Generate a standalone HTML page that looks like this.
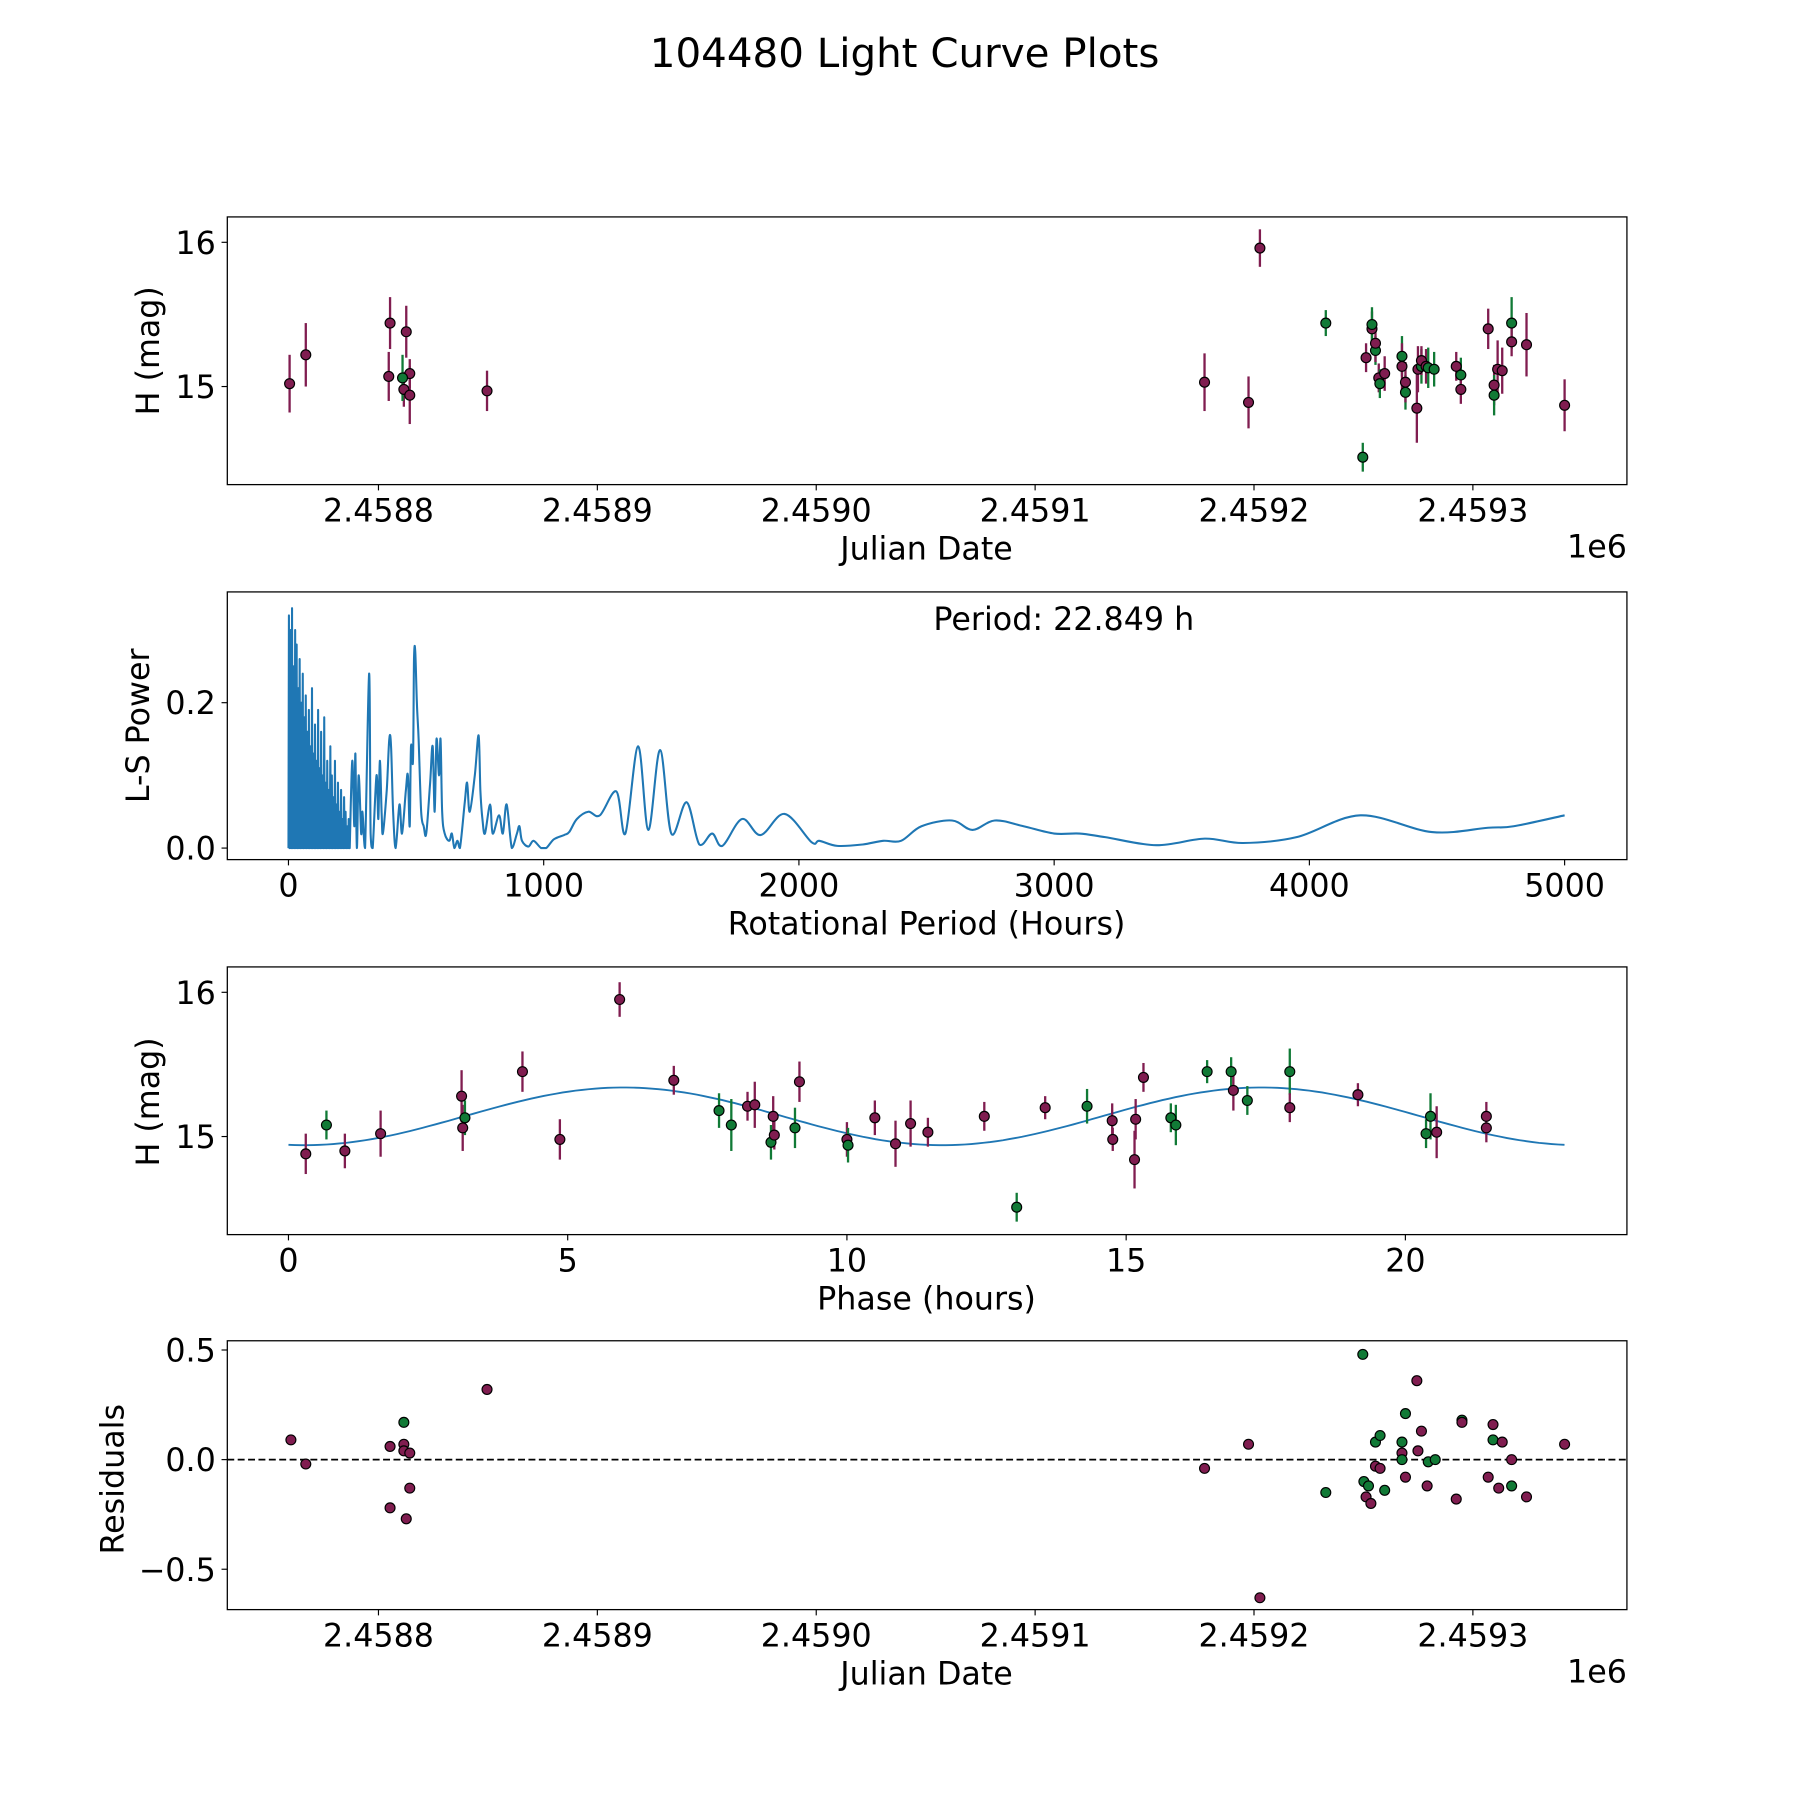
<!DOCTYPE html>
<html><head><meta charset="utf-8"><style>
html,body{margin:0;padding:0;background:#fff}
svg{display:block;font-family:"DejaVu Sans","Liberation Sans",sans-serif}
</style></head><body>
<svg id="fig" width="1800" height="1800" viewBox="0 0 1560 1560" xmlns="http://www.w3.org/2000/svg">
<rect width="1560" height="1560" fill="#fff"/>
<text x="784" y="58" font-size="35" text-anchor="middle">104480 Light Curve Plots</text>
<g id="g1"></g>
<g id="g2"></g>
<g id="g3"></g>
<g id="g4"></g>
</svg>
<script>
// ---- Panel 1: light curve data (JD, mag, err, band 0=purple 1=green)
const lcJD = [2458759.4,2458766.8,2458805.3,2458804.7,2458811.6,2458812.7,2458814.3,2458814.3,2458811.0,2458849.6,2459177.4,2459197.5,2459202.7,2459232.8,2459249.7,2459251.2,2459253.9,2459253.9,2459255.5,2459255.5,2459257.0,2459257.5,2459259.7,2459267.6,2459267.6,2459269.2,2459269.2,2459274.4,2459274.9,2459276.5,2459276.5,2459278.6,2459279.6,2459282.3,2459292.4,2459294.5,2459294.5,2459307.0,2459309.7,2459309.7,2459311.3,2459313.4,2459317.7,2459317.7,2459324.5,2459341.9];
const lcMag = [15.02,15.22,15.44,15.07,14.98,15.38,15.09,14.94,15.06,14.97,15.03,14.89,15.96,15.44,14.51,15.20,15.40,15.43,15.25,15.30,15.06,15.02,15.09,15.21,15.14,14.96,15.03,14.85,15.12,15.14,15.18,15.14,15.13,15.12,15.14,15.08,14.98,15.40,15.01,14.94,15.12,15.11,15.44,15.31,15.29,14.87];
const lcErr = [0.2,0.22,0.18,0.17,0.12,0.18,0.1,0.2,0.16,0.14,0.2,0.18,0.13,0.09,0.1,0.1,0.12,0.12,0.1,0.13,0.1,0.1,0.12,0.14,0.16,0.12,0.14,0.24,0.16,0.12,0.1,0.12,0.14,0.12,0.1,0.12,0.1,0.14,0.14,0.14,0.2,0.16,0.18,0.1,0.22,0.18];
const lcBand = [0,0,0,0,0,0,0,0,1,0,0,0,0,1,1,0,0,1,1,0,0,1,0,1,0,1,0,0,0,1,0,0,1,1,0,1,0,0,0,1,0,0,1,0,0,0];
// ---- Panel 2: periodogram
const lsDenseHeights = [.32,.30,.33,.25,.30,.28,.22,.26,.20,.24,.18,.21,.16,.19,.14,.22,.13,.17,.12,.19,.11,.16,.10,.18,.09,.12,.08,.14,.10,.07,.12,.06,.09,.05,.08,.04,.07,.05,.03,.04];
const lsPeriods = [240,250,258,262,268,275,285,290,300,316,322,330,345,352,358,365,370,385,395,402,410,420,435,445,460,468,475,480,488,492,497,503,510,520,530,540,555,565,573,580,590,596,602,612,630,640,650,662,672,690,700,710,730,745,752,760,770,790,800,825,840,855,875,895,905,915,940,960,990,1010,1040,1080,1100,1130,1175,1220,1285,1320,1370,1410,1456,1500,1560,1610,1660,1700,1777,1850,1944,2050,2080,2150,2250,2330,2400,2480,2600,2680,2767,2880,3000,3100,3200,3400,3590,3740,3950,4200,4480,4700,4800,5000];
const lsPower = [0,.12,.03,.13,0,.1,.02,.05,0,.24,.02,0,.1,.04,.12,.05,.02,.08,.15,.14,.05,0,.06,.02,.08,.1,.03,.14,.12,.26,.27,.2,.15,.05,.03,.02,.09,.14,.05,.15,.1,.15,.05,.02,.01,.02,0,.01,0,.06,.09,.05,.1,.155,.08,.04,.02,.06,.02,.045,.02,.06,0,.02,.03,.01,.002,.01,0,0,.012,.018,.022,.04,.05,.045,.078,.02,.14,.025,.135,.02,.063,.005,.02,.003,.04,.018,.047,.008,.01,.003,.005,.01,.01,.03,.038,.025,.038,.03,.02,.02,.015,.004,.013,.007,.015,.045,.022,.028,.03,.045];
// ---- Panel 3: phased data
const phPhase = [0.31,0.68,1.01,1.65,3.1,3.12,3.16,4.19,4.86,5.93,6.9,7.71,7.93,8.22,8.35,8.68,8.64,8.7,9.07,9.15,10.0,10.02,10.5,10.87,11.14,11.45,12.46,13.04,13.55,14.3,14.75,14.76,15.17,15.15,15.31,15.8,15.89,16.45,16.88,16.92,17.17,17.93,17.93,19.15,20.37,20.45,20.56,21.45,21.45];
const phMag = [14.88,15.08,14.9,15.02,15.28,15.06,15.13,15.45,14.98,15.95,15.39,15.18,15.08,15.21,15.22,15.14,14.96,15.01,15.06,15.38,14.98,14.94,15.13,14.95,15.09,15.03,15.14,14.51,15.2,15.21,15.11,14.98,15.12,14.84,15.41,15.13,15.08,15.45,15.45,15.32,15.25,15.45,15.2,15.29,15.02,15.14,15.03,15.14,15.06];
const phErr = [0.14,0.1,0.12,0.16,0.18,0.16,0.12,0.14,0.14,0.12,0.1,0.12,0.18,0.1,0.16,0.14,0.12,0.1,0.14,0.14,0.12,0.12,0.12,0.16,0.16,0.1,0.1,0.1,0.08,0.12,0.12,0.08,0.14,0.2,0.1,0.1,0.14,0.08,0.1,0.14,0.1,0.16,0.1,0.08,0.1,0.16,0.18,0.1,0.1];
const phBand = [0,1,0,0,0,0,1,0,0,0,0,1,1,0,0,0,1,0,1,0,0,1,0,0,0,0,0,1,0,1,0,0,0,0,0,1,1,1,1,0,1,1,0,0,1,1,0,0,0];
const fitMean = [15.14], fitAmp = [0.2], fitPeak = [6.0], fitHalfPeriod = [11.42], fitMax = [22.849];
// ---- Panel 4: residuals
const resJD = [2458760.0,2458766.8,2458805.3,2458805.3,2458811.6,2458811.6,2458811.6,2458812.7,2458814.3,2458814.3,2458849.6,2459177.4,2459197.5,2459202.7,2459232.8,2459249.7,2459251.2,2459253.4,2459250.2,2459252.3,2459255.5,2459257.6,2459255.5,2459257.6,2459259.7,2459267.6,2459267.6,2459267.6,2459269.2,2459269.2,2459274.4,2459274.9,2459276.5,2459279.1,2459279.6,2459282.8,2459292.4,2459295.0,2459295.0,2459307.0,2459309.2,2459309.2,2459311.8,2459313.4,2459317.7,2459317.7,2459324.5,2459341.9];
const resVal = [0.09,-0.02,0.06,-0.22,0.07,0.04,0.17,-0.27,0.03,-0.13,0.32,-0.04,0.07,-0.63,-0.15,0.48,-0.17,-0.2,-0.1,-0.12,0.08,0.11,-0.03,-0.04,-0.14,0.08,0.03,0.0,0.21,-0.08,0.36,0.04,0.13,-0.12,-0.01,0.0,-0.18,0.18,0.17,-0.08,0.16,0.09,-0.13,0.08,-0.12,0.0,-0.17,0.07];
const resBand = [0,0,0,0,0,0,1,0,0,0,0,0,0,0,1,1,0,0,1,1,1,1,0,0,1,1,0,1,1,0,0,0,0,0,1,1,0,1,0,0,0,1,0,0,1,0,0,0];

const NS="http://www.w3.org/2000/svg";
const COL=["#801d50","#117a36"];
const FS=27.5;
function mk(parent,tag,attrs,text){const e=document.createElementNS(NS,tag);for(const k in attrs)e.setAttribute(k,attrs[k]);if(text!==undefined)e.textContent=text;parent.appendChild(e);return e;}
function frame(g,L,T,R,B){const r=mk(g,'rect',{x:L,y:T,width:R-L,height:B-T,fill:'none',stroke:'#000','stroke-width':1.1});

}
function xtick(g,x,B,label){const l=mk(g,'line',{x1:x,y1:B,x2:x,y2:B+5,stroke:'#000','stroke-width':1});


const t=mk(g,'text',{x:x,y:B+32,'font-size':FS,'text-anchor':'middle'},label);

}
function ytick(g,L,y,label){const l=mk(g,'line',{x1:L-5,y1:y,x2:L,y2:y,stroke:'#000','stroke-width':1});


const t=mk(g,'text',{x:L-10,y:y+10,'font-size':FS,'text-anchor':'end'},label);

}
function xlabel(g,x,y,s){const t=mk(g,'text',{x:x,y:y,'font-size':FS,'text-anchor':'middle'},s);

}
function ylabel(g,x,y,s){const t=mk(g,'text',{x:x,y:y,'font-size':FS,'text-anchor':'middle',transform:`rotate(-90 ${x} ${y})`},s);

}
function marker(g,x,y,c){const m=mk(g,'circle',{cx:x,cy:y,r:4.3,fill:c,stroke:'#000','stroke-width':1});

}
function errbar(g,x,y1,y2,c){const l=mk(g,'line',{x1:x,y1:y1,x2:x,y2:y2,stroke:c,'stroke-width':2});

}
const jdTicks=["2.4588","2.4589","2.4590","2.4591","2.4592","2.4593"];
const jdX=d=>328+(d-2458800)*1.897;

// Panel 1
(function(){const g=document.getElementById('g1');const L=197,T=188,R=1410,B=420;
const yS=m=>335-(m-15)*125;
frame(g,L,T,R,B);
jdTicks.forEach((s,i)=>xtick(g,jdX(2458800+i*100),B,s));
ytick(g,L,yS(16),"16");ytick(g,L,yS(15),"15");
xlabel(g,803,485,"Julian Date");
const e=mk(g,'text',{x:1410,y:483,'font-size':FS,'text-anchor':'end'},"1e6");


ylabel(g,138,304,"H (mag)");
lcJD.forEach((d,i)=>errbar(g,jdX(d),yS(lcMag[i]-lcErr[i]),yS(lcMag[i]+lcErr[i]),COL[lcBand[i]]));
lcJD.forEach((d,i)=>marker(g,jdX(d),yS(lcMag[i]),COL[lcBand[i]]));
})();

// Panel 2
(function(){const g=document.getElementById('g2');const L=197,T=513,R=1410,B=745;
const xS=p=>250+p*0.2212,yS=v=>735-v*630;
frame(g,L,T,R,B);
[0,1000,2000,3000,4000,5000].forEach(v=>xtick(g,xS(v),B,String(v)));
[0,0.2].forEach(v=>ytick(g,L,yS(v),v.toFixed(1)));
xlabel(g,803,810,"Rotational Period (Hours)");
ylabel(g,129,629,"L-S Power");
const pt=mk(g,'text',{x:922,y:546,'font-size':FS,'text-anchor':'middle'},"Period: 22.849 h");


let d='';
lsDenseHeights.forEach((h,i)=>{const p=i*6;d+=(i?'L':'M')+xS(p).toFixed(1)+' '+yS(0)+' L'+xS(p+2).toFixed(1)+' '+yS(h).toFixed(1)+' L'+xS(p+4).toFixed(1)+' '+yS(0)+' ';});
const P=lsPeriods.map((p,i)=>[xS(p),yS(lsPower[i])]);
d+='L'+P[0][0].toFixed(1)+' '+P[0][1].toFixed(1)+' ';
for(let i=0;i<P.length-1;i++){const p0=P[Math.max(0,i-1)],p1=P[i],p2=P[i+1],p3=P[Math.min(P.length-1,i+2)];
const c1=[p1[0]+(p2[0]-p0[0])/6,p1[1]+(p2[1]-p0[1])/6],c2=[p2[0]-(p3[0]-p1[0])/6,p2[1]-(p3[1]-p1[1])/6];
d+=`C${c1[0].toFixed(1)} ${Math.min(735,c1[1]).toFixed(1)} ${c2[0].toFixed(1)} ${Math.min(735,c2[1]).toFixed(1)} ${p2[0].toFixed(1)} ${p2[1].toFixed(1)} `;}
const pl=mk(g,'path',{d:d,fill:'none',stroke:'#1f77b4','stroke-width':1.8,'stroke-linejoin':'round'});


})();

// Panel 3
(function(){const g=document.getElementById('g3');const L=197,T=838,R=1410,B=1070;
const xS=p=>250+p*48.4,yS=m=>985-(m-15)*125;
frame(g,L,T,R,B);
[0,5,10,15,20].forEach(v=>xtick(g,xS(v),B,String(v)));
ytick(g,L,yS(16),"16");ytick(g,L,yS(15),"15");
xlabel(g,803,1135,"Phase (hours)");
ylabel(g,138,955,"H (mag)");
let d='';for(let i=0;i<=200;i++){const p=fitMax[0]*i/200;const m=fitMean[0]+fitAmp[0]*Math.cos(2*Math.PI*(p-fitPeak[0])/fitHalfPeriod[0]);d+=(i?'L':'M')+xS(p).toFixed(1)+' '+yS(m).toFixed(1)+' ';}
const fl=mk(g,'path',{d:d,fill:'none',stroke:'#1f77b4','stroke-width':1.6});


phPhase.forEach((p,i)=>errbar(g,xS(p),yS(phMag[i]-phErr[i]),yS(phMag[i]+phErr[i]),COL[phBand[i]]));
phPhase.forEach((p,i)=>marker(g,xS(p),yS(phMag[i]),COL[phBand[i]]));
})();

// Panel 4
(function(){const g=document.getElementById('g4');const L=197,T=1162,R=1410,B=1395;
const yS=v=>1265-v*190;
frame(g,L,T,R,B);
jdTicks.forEach((s,i)=>xtick(g,jdX(2458800+i*100),B,s));
[[0.5,"0.5"],[0,"0.0"],[-0.5,"\u22120.5"]].forEach(a=>ytick(g,L,yS(a[0]),a[1]));
xlabel(g,803,1460,"Julian Date");
const e=mk(g,'text',{x:1410,y:1458,'font-size':FS,'text-anchor':'end'},"1e6");


ylabel(g,107,1282,"Residuals");
const z=mk(g,'line',{x1:L,y1:yS(0),x2:R,y2:yS(0),stroke:'#000','stroke-width':1.5,'stroke-dasharray':'6 3'});


resJD.forEach((d,i)=>marker(g,jdX(d),yS(resVal[i]),COL[resBand[i]]));
})();
</script>
</body></html>
